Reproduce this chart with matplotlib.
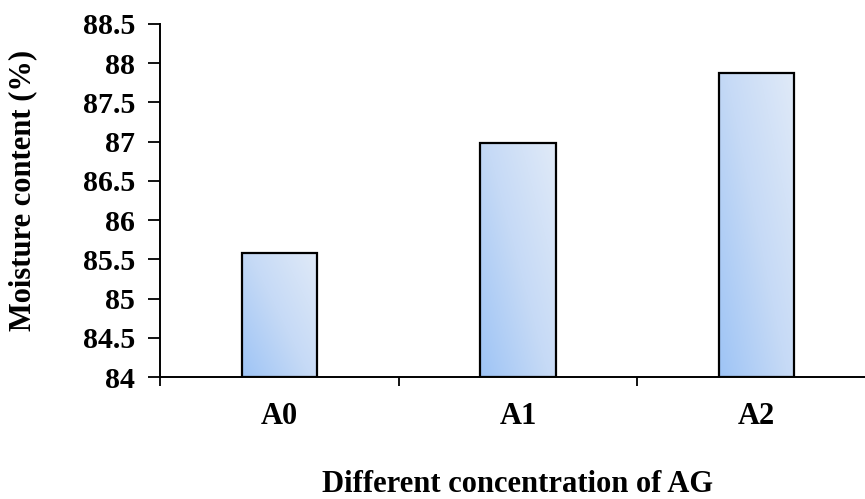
import numpy as np
import matplotlib
matplotlib.use("Agg")
import matplotlib.pyplot as plt
from matplotlib.colors import LinearSegmentedColormap
from matplotlib.patches import Rectangle

categories = ["A0", "A1", "A2"]
moisture = [85.58, 86.98, 87.88]
y_ticks = [84, 84.5, 85, 85.5, 86, 86.5, 87, 87.5, 88, 88.5]
y_tick_labels = ["84", "84.5", "85", "85.5", "86", "86.5", "87", "87.5", "88", "88.5"]

plt.rcParams["font.family"] = ["Liberation Serif", "DejaVu Serif"]
plt.rcParams["font.weight"] = "bold"

W, H = 865, 499
fig = plt.figure(figsize=(W / 100, H / 100), dpi=100)
ax_left, ax_right, ax_top, ax_bottom = 160, 876, 24, 377
ax = fig.add_axes([ax_left / W, 1 - ax_bottom / H,
                   (ax_right - ax_left) / W, (ax_bottom - ax_top) / H])

ymin, ymax = 84, 88.5
ax.set_xlim(-0.5, 2.5)
ax.set_ylim(ymin, ymax)

bar_width = 0.315
cmap = LinearSegmentedColormap.from_list("bluefill", ["#9ec4f5", "#c6daf6", "#e0eaf8"])
gx, gy = np.meshgrid(np.linspace(0, 1, 60), np.linspace(0, 1, 120))
grad = (gx * 0.55 + gy * 0.45)

for i, v in enumerate(moisture):
    x0 = i - bar_width / 2
    x1 = i + bar_width / 2
    im = ax.imshow(grad, extent=(x0, x1, ymin, v), origin="lower", cmap=cmap,
                   aspect="auto", interpolation="bilinear", zorder=2)
    rect = Rectangle((x0, ymin), bar_width, v - ymin, facecolor="none",
                     edgecolor="black", linewidth=1.6, zorder=3)
    ax.add_patch(rect)
    im.set_clip_path(rect)

ax.set_xlim(-0.5, 2.5)
ax.set_ylim(ymin, ymax)

for s in ["top", "right"]:
    ax.spines[s].set_visible(False)
for s in ["left", "bottom"]:
    ax.spines[s].set_linewidth(1.4)
    ax.spines[s].set_zorder(4)

ax.set_yticks(y_ticks)
ax.set_yticklabels(y_tick_labels, fontsize=21.5, fontweight="bold")
ax.tick_params(axis="y", direction="out", length=9, width=1.3, pad=9)

ax.set_xticks([-0.5, 0.5, 1.5, 2.5])
ax.set_xticklabels([])
ax.tick_params(axis="x", which="major", direction="out", length=6.5, width=1.3)
ax.set_xticks(range(len(categories)), minor=True)
ax.set_xticklabels(categories, minor=True, fontsize=22, fontweight="bold")
ax.tick_params(axis="x", which="minor", length=0, pad=18)

ax_w = ax_right - ax_left
ax_h = ax_bottom - ax_top
ax.set_ylabel("Moisture content (%)", fontsize=22, fontweight="bold")
ax.yaxis.set_label_coords((23 - ax_left) / ax_w, (ax_bottom - 190) / ax_h)
ax.yaxis.label.set_va("center")
ax.set_xlabel("Different concentration of AG", fontsize=22, fontweight="bold")
ax.xaxis.set_label_coords(0.5, -(484 - ax_bottom) / ax_h)
ax.xaxis.label.set_va("center")

fig.savefig("out.png", dpi=100)
